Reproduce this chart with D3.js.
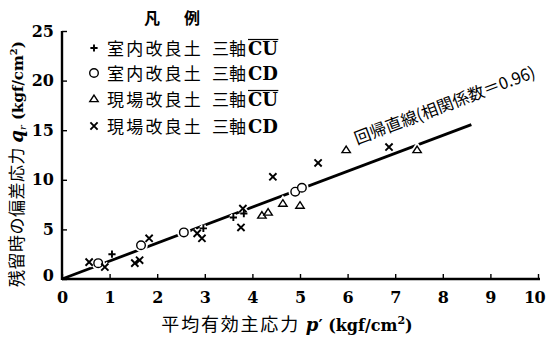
<!DOCTYPE html>
<html><head><meta charset="utf-8">
<script src="https://cdn.jsdelivr.net/npm/d3@7/dist/d3.min.js"></script>
<style>
html,body{margin:0;padding:0;background:#fff;}
svg{display:block;}
</style></head>
<body>
<svg id="chart" width="547" height="337"></svg>
<script>
// ---- data ----
const xTicks = [0,1,2,3,4,5,6,7,8,9,10];
const yTicks = [0,5,10,15,20,25];
const labCU_x = [1.05, 2.97, 3.60, 3.82];
const labCU_y = [2.5, 5.1, 6.2, 6.6];
const labCD_x = [0.76, 1.66, 2.56, 4.90, 5.04];
const labCD_y = [1.6, 3.4, 4.7, 8.8, 9.2];
const fieldCU_x = [4.20, 4.33, 4.64, 5.00, 5.97, 7.46];
const fieldCU_y = [6.4, 6.7, 7.6, 7.4, 13.0, 13.0];
const fieldCD_x = [0.57, 0.90, 1.53, 1.63, 1.83, 2.84, 2.94, 3.76, 3.80, 4.43, 5.38, 6.87];
const fieldCD_y = [1.7, 1.2, 1.6, 1.9, 4.1, 4.6, 4.1, 5.2, 7.1, 10.3, 11.7, 13.3];
const regSlope = 1.81;
const regXRange = [0, 8.6];
const legendSoil = ["室内改良土","室内改良土","現場改良土","現場改良土"];
const legendTest = ["CU","CD","CU","CD"];
const legendBar = [true,false,true,false];
const legendSymbols = ["plus","circle","triangle","cross"];
const legendTitle = "凡　例";
const regLabel = "回帰直線(相関係数＝0.96)";

const SERIF = "DejaVu Serif, Liberation Serif, serif";
const CJK = "Noto Sans CJK JP, Noto Sans CJK SC, sans-serif";

const svg = d3.select("#chart");
const x = d3.scaleLinear().domain([0,10]).range([62,538]);
const y = d3.scaleLinear().domain([0,25]).range([279,31]);

// axes
const xAxis = d3.axisBottom(x).tickValues(xTicks).tickSizeInner(-5).tickSizeOuter(0).tickPadding(9);
const yAxis = d3.axisLeft(y).tickValues(yTicks).tickSizeInner(-5).tickSizeOuter(0).tickPadding(8);
const gx = svg.append("g").attr("transform",`translate(0,${y(0)})`).call(xAxis);
const gy = svg.append("g").attr("transform",`translate(${x(0)},0)`).call(yAxis);
[gx,gy].forEach(g=>{
  g.attr("font-family",null).attr("font-size",null);
  g.select(".domain").attr("stroke","#000").attr("stroke-width",2.4);
  g.selectAll(".tick line").attr("stroke","#000").attr("stroke-width",1.4);
  g.selectAll(".tick text").attr("fill","#000")
    .style("font-family",SERIF).style("font-weight","bold").style("font-size","16px");
});
gx.selectAll(".tick text").attr("dy","0.95em");
gx.selectAll(".tick").filter(d=>d===10).select("text").attr("dx","-4").attr("letter-spacing","-0.5");
gy.selectAll(".tick").filter(d=>d===0).select("text").attr("dy","0.1em");
gx.select(".domain").attr("d",`M${x(0)},0H${x(10)+2}`);
gy.select(".domain").attr("d",`M0,${y(25)}V${y(0)+1}`);

// regression line
const line = d3.line().x(d=>x(d)).y(d=>y(regSlope*d));
svg.append("path").attr("d",line(regXRange)).attr("fill","none")
  .attr("stroke","#000").attr("stroke-width",2.8);

// markers
function drawSym(g, type, cx, cy, halo){
  const s = 3.6;
  let el;
  if(type==="plus"){
    el = g.append("path").attr("d",`M${cx-s},${cy}H${cx+s}M${cx},${cy-s}V${cy+s}`).attr("fill","none");
  } else if(type==="cross"){
    el = g.append("path").attr("d",`M${cx-s},${cy-s}L${cx+s},${cy+s}M${cx+s},${cy-s}L${cx-s},${cy+s}`).attr("fill","none");
  } else if(type==="circle"){
    el = g.append("circle").attr("cx",cx).attr("cy",cy).attr("r",4.3).attr("fill","#fff");
  } else {
    const h=6.5, w=4.2;
    el = g.append("path").attr("d",`M${cx},${cy-h*0.6}L${cx+w},${cy+h*0.4}L${cx-w},${cy+h*0.4}Z`).attr("fill","#fff");
  }
  if(halo){ el.attr("stroke","#fff").attr("stroke-width",5); }
  else { el.attr("stroke","#000").attr("stroke-width", type==="plus"||type==="cross"?1.9:1.4); }
}
const series = [
  {xs:labCU_x, ys:labCU_y, sym:"plus"},
  {xs:labCD_x, ys:labCD_y, sym:"circle"},
  {xs:fieldCU_x, ys:fieldCU_y, sym:"triangle"},
  {xs:fieldCD_x, ys:fieldCD_y, sym:"cross"}
];
const mg = svg.append("g");
[true,false].forEach(halo=>{
  series.forEach(s=>{
    s.xs.forEach((xv,i)=>drawSym(mg, s.sym, x(xv), y(s.ys[i]), halo));
  });
});

// regression label
const ang = -Math.atan(regSlope*(y(0)-y(1))/(x(1)-x(0)))*180/Math.PI;
const lx = 6.2;
svg.append("text")
  .attr("transform",`translate(${x(lx)},${y(regSlope*lx)-23}) rotate(${ang})`)
  .style("font-family",CJK).style("font-size","16.5px").attr("fill","#000")
  .text(regLabel);

// legend
svg.append("text").attr("x",174).attr("y",24).attr("text-anchor","middle")
  .style("font-family",CJK).style("font-size","16px").style("font-weight","bold")
  .attr("letter-spacing","4").text(legendTitle);
const rowY = [48,73,99,126];
legendSoil.forEach((t,i)=>{
  const ry = rowY[i];
  drawSym(svg, legendSymbols[i], 94, ry, false);
  svg.append("text").attr("x",107).attr("y",ry+6.5)
    .style("font-family",CJK).style("font-size","17px").attr("letter-spacing","2.2")
    .text(t);
  svg.append("text").attr("x",212).attr("y",ry+6.5)
    .style("font-family",CJK).style("font-size","17px")
    .text("三軸");
  const tt = svg.append("text").attr("x",248).attr("y",ry+6.5)
    .style("font-family",SERIF).style("font-size","18px").style("font-weight","bold")
    .text(legendTest[i]);
  if(legendBar[i]){
    const bb = tt.node().getBBox();
    svg.append("line").attr("x1",bb.x).attr("x2",bb.x+bb.width)
      .attr("y1",ry-8.5).attr("y2",ry-8.5).attr("stroke","#000").attr("stroke-width",1.2);
  }
});

// x-axis title
const xt = svg.append("text").attr("x",287).attr("y",331).attr("text-anchor","middle")
  .style("font-size","18px").attr("fill","#000");
xt.append("tspan").style("font-family",CJK).attr("letter-spacing","1.8").text("平均有効主応力 ");
xt.append("tspan").style("font-family",SERIF).style("font-style","italic").style("font-weight","bold").style("font-size","18px").text("p");
xt.append("tspan").style("font-family",SERIF).style("font-weight","bold").style("font-size","16px").text("′ (kgf/cm");
xt.append("tspan").style("font-family",SERIF).style("font-weight","bold").style("font-size","11px").attr("dy",-7).text("2");
xt.append("tspan").style("font-family",SERIF).style("font-weight","bold").style("font-size","16px").attr("dy",7).text(")");

// y-axis title
const yt = svg.append("text").attr("transform","translate(23,164) rotate(-90)")
  .attr("text-anchor","middle").style("font-size","17px").attr("fill","#000");
yt.append("tspan").style("font-family",CJK).attr("letter-spacing","0.5").text("残留時の偏差応力 ");
yt.append("tspan").style("font-family",SERIF).style("font-style","italic").style("font-weight","bold").style("font-size","18px").text("q");
yt.append("tspan").style("font-family",SERIF).style("font-style","italic").style("font-size","10px").attr("dy",3).text("r");
yt.append("tspan").style("font-family",SERIF).style("font-weight","bold").style("font-size","15px").attr("dy",-3).text(" (kgf/cm");
yt.append("tspan").style("font-family",SERIF).style("font-weight","bold").style("font-size","10px").attr("dy",-6).text("2");
yt.append("tspan").style("font-family",SERIF).style("font-weight","bold").style("font-size","15px").attr("dy",6).text(")");
</script>
</body></html>
